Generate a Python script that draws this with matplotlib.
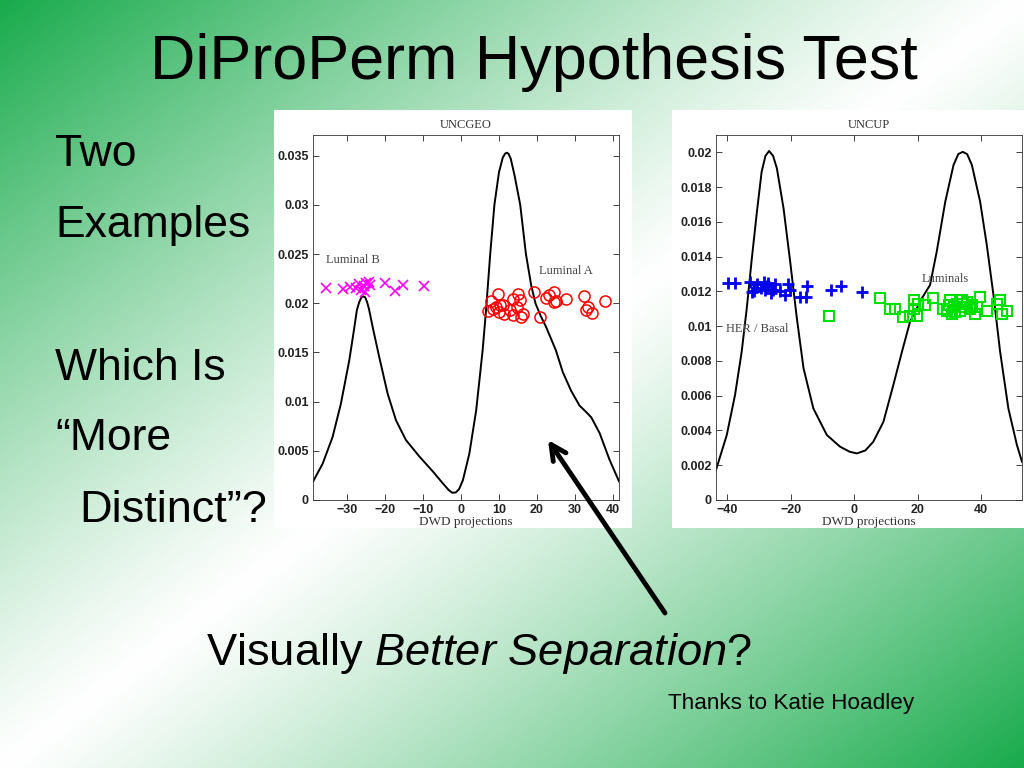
import numpy as np
import matplotlib
matplotlib.use("Agg")
import matplotlib.pyplot as plt
from matplotlib.patches import Rectangle

# UNCGEO: density curve
geo_curve_x = [-38.9, -36.4, -33.8, -31.6, -29.4, -28.2, -27.4, -26.8, -26.2, -25.7, -25.2, -24.7, -24.2, -23.2,
               -21.5, -19.3, -17.1, -14.5, -10.9, -7.4, -4.8, -3.2, -2.3, -1.4, -0.5, 0.5, 2.2, 4.0, 5.7,
               6.6, 7.7, 8.8, 10.0, 11.0, 11.6, 12.05, 12.5, 13.1, 14.1, 15.6, 17.1, 18.5, 19.6, 21.0, 22.4, 25.0,
               26.8, 29.0, 31.2, 32.8, 34.3, 36.5, 39.1, 41.6]
geo_curve_y = [0.0019, 0.0037, 0.0064, 0.0098, 0.0142, 0.0172, 0.0193, 0.0201, 0.0206, 0.0207, 0.0206, 0.0201, 0.0194, 0.0175,
               0.0145, 0.0108, 0.0081, 0.0061, 0.0044, 0.0029, 0.0017, 0.0010, 0.00074, 0.00076, 0.0011, 0.0020, 0.0047, 0.0091, 0.0152,
               0.0193, 0.0250, 0.0300, 0.0333, 0.0348, 0.0352, 0.0353, 0.0352, 0.0347, 0.0330, 0.0300, 0.0250, 0.0218, 0.0200, 0.0187, 0.0176, 0.0152,
               0.0130, 0.0111, 0.0096, 0.0090, 0.0084, 0.0068, 0.0041, 0.0019]

lumb_x = [-35.4, -31.0, -29.2, -27.5, -26.8, -26.3, -25.6, -25.0, -25.2, -24.3, -23.9, -19.9, -17.4, -15.3, -9.6]
lumb_y = [0.0215, 0.0214, 0.0216, 0.0215, 0.0220, 0.0213, 0.0218, 0.0221, 0.0211, 0.0222, 0.0219, 0.0221,
          0.0212, 0.0219, 0.0218]

luma_x = [7.9, 9.7, 10.4, 13.6, 14.95, 15.6, 19.2, 22.4, 23.3, 24.6, 24.9, 27.7, 32.5, 33.4, 37.8,
          7.05, 8.4, 9.2, 10.1, 11.0, 11.4, 12.8, 13.6, 14.7, 15.8, 20.7, 33.0, 34.5, 24.4, 16.2]
luma_y = [0.0202, 0.0209, 0.0198, 0.0204, 0.0209, 0.0203, 0.0211, 0.0205, 0.0208, 0.0211, 0.0202, 0.0204,
          0.0207, 0.0196, 0.0202, 0.0192, 0.0194, 0.0196, 0.0191, 0.0198, 0.0189, 0.0193, 0.0188, 0.0196,
          0.0186, 0.0186, 0.0193, 0.0190, 0.0201, 0.0189]

# UNCUP
up_curve_x = [-43.6, -40.2, -37.6, -35.5, -33.9, -32.3, -30.7, -29.2, -28.0, -26.85, -25.6, -24.4, -22.3,
              -20.2, -18.1, -16.0, -12.9, -8.65, -4.5, -1.5, 0.8, 3.5, 6.0, 9.2, 12.3, 15.0, 17.6,
              21.3, 23.9, 26.0, 28.7, 31.3, 32.8, 34.2, 35.6, 37.1, 39.7, 41.8, 43.9, 46.0, 48.6,
              51.3, 52.9]
up_curve_y = [0.00173, 0.00374, 0.00604, 0.00853, 0.01103, 0.0139, 0.01658, 0.01889, 0.0198, 0.02008, 0.0198, 0.01908, 0.01678,
              0.0137, 0.01045, 0.00758, 0.00527, 0.00374, 0.00307, 0.00278, 0.00268, 0.00285, 0.00335, 0.0045, 0.0066, 0.0085, 0.01026,
              0.0116, 0.01237, 0.01428, 0.01716, 0.01927, 0.0199, 0.02003, 0.0199, 0.01927, 0.01716, 0.01467, 0.01179, 0.00853, 0.00527,
              0.00316, 0.0022]

her_x = [-39.7, -37.6, -32.8, -32.3, -30.7, -28.6, -28.1, -27.6, -27.1, -26.3, -25.5, -25.0, -23.4, -21.8,
         -20.8, -20.2, -17.1, -15.0, -15.2, -7.3, -4.2, 2.6, -29.5, -31.5]
her_y = [0.0125, 0.0125, 0.01257, 0.01194, 0.01244, 0.01257, 0.0121, 0.0123, 0.0125, 0.0119, 0.0121, 0.0124,
         0.0120, 0.0118, 0.0124, 0.0121, 0.0117, 0.0123, 0.0117, 0.01206, 0.0123, 0.01196, 0.0122, 0.0120]

lumi_x = [-8.1, 8.0, 11.3, 12.9, 15.5, 17.6, 18.7, 19.7, 18.9, 20.2, 22.3, 24.9, 28.1, 29.2, 30.2, 30.8,
          31.3, 32.3, 33.4, 33.9, 35.0, 35.5, 36.5, 38.1, 38.6, 39.7, 41.8, 45.0, 46.0, 46.5, 48.3,
          29.8, 31.8, 34.4, 37.0]
lumi_y = [0.0106, 0.0116, 0.0110, 0.0110, 0.01053, 0.01057, 0.01152, 0.01057, 0.0110, 0.0113, 0.0112, 0.0116,
          0.0110, 0.0109, 0.0115, 0.0107, 0.0111, 0.0113, 0.0109, 0.0115, 0.0111, 0.0114, 0.0110, 0.0107,
          0.0111, 0.0117, 0.0109, 0.0113, 0.0115, 0.0107, 0.0109, 0.0112, 0.0108, 0.0113, 0.0112]

geo_xticks = [-30, -20, -10, 0, 10, 20, 30, 40]
geo_yticks = [0, 0.005, 0.01, 0.015, 0.02, 0.025, 0.03, 0.035]
geo_ylabels = ["0", "0.005", "0.01", "0.015", "0.02", "0.025", "0.03", "0.035"]
up_xticks = [-40, -20, 0, 20, 40]
up_yticks = [0, 0.002, 0.004, 0.006, 0.008, 0.01, 0.012, 0.014, 0.016, 0.018, 0.02]
up_ylabels = ["0", "0.002", "0.004", "0.006", "0.008", "0.01", "0.012", "0.014", "0.016", "0.018", "0.02"]

plt.rcParams['font.family'] = 'Liberation Sans'
plt.rcParams['mathtext.fontset'] = 'custom'
plt.rcParams['mathtext.rm'] = 'Liberation Sans'
plt.rcParams['mathtext.it'] = 'Liberation Sans:italic'

W, H = 1024, 768
fig = plt.figure(figsize=(10.24, 7.68), dpi=100)

# Background gradient: green top-left and bottom-right, white on the diagonal
bg = fig.add_axes([0, 0, 1, 1], zorder=-10)
xx, yy = np.meshgrid(np.linspace(0, 1, 256), np.linspace(0, 1, 192))
t = (xx + yy) / 2
w = np.clip(np.abs(t - 0.5) * 2, 0, 1) ** 1.15
green = np.array([0.10, 0.67, 0.30])
img = 1 - w[..., None] * (1 - green)
bg.imshow(img, extent=[0, W, H, 0], aspect='auto')
bg.set_xlim(0, W)
bg.set_ylim(H, 0)
bg.axis('off')
# white panels behind the two plots
bg.add_patch(Rectangle((274, 110), 358, 418, color='white', lw=0))
bg.add_patch(Rectangle((672, 110), 360, 418, color='white', lw=0))

serif = 'Liberation Serif'


def style_axes(ax, xticks, yticks, ylabels, title):
    ax.set_xticks(xticks)
    ax.set_xticklabels([str(v).replace('-', '\u2212') for v in xticks])
    ax.set_yticks(yticks)
    ax.set_yticklabels(ylabels)
    ax.tick_params(direction='in', top=True, right=True, length=4, width=0.6, colors='#222222',
                   labelsize=9, pad=3)
    for lab in ax.get_xticklabels() + ax.get_yticklabels():
        lab.set_fontweight('bold')
    for s in ax.spines.values():
        s.set_linewidth(0.6)
        s.set_color('#333333')
    ax.set_title(title, family=serif, fontsize=9, color='#333333', pad=5)
    ax.set_xlabel('DWD projections', family=serif, fontsize=9.5, color='#333333', labelpad=0)


# Left plot: UNCGEO
ax1 = fig.add_axes([313 / W, 1 - 500 / H, 306 / W, 365 / H])
ax1.plot(geo_curve_x, geo_curve_y, color='black', lw=1.4)
ax1.plot(lumb_x, lumb_y, 'x', color='#ff00ff', ms=6.5, mew=1.2)
ax1.plot(luma_x, luma_y, 'o', mfc='none', mec='#ff0000', ms=8, mew=1.1)
ax1.text(-35.5, 0.0244, 'Luminal B', family=serif, fontsize=9, color='#444444', va='center')
ax1.text(20.5, 0.0233, 'Luminal A', family=serif, fontsize=9, color='#444444', va='center')
ax1.set_xlim(-38.95, 41.6)
ax1.set_ylim(0, 0.0371)
style_axes(ax1, geo_xticks, geo_yticks, geo_ylabels, 'UNCGEO')

# Right plot: UNCUP
ax2 = fig.add_axes([716 / W, 1 - 500 / H, 306 / W, 365 / H])
ax2.plot(up_curve_x, up_curve_y, color='black', lw=1.4)
ax2.plot(her_x, her_y, '+', color='#0000ee', ms=9, mew=2)
ax2.plot(lumi_x, lumi_y, 's', mfc='none', mec='#00e000', ms=7, mew=1.5)
ax2.text(21.4, 0.0127, 'Luminals', family=serif, fontsize=9, color='#444444', va='center')
ax2.text(-40.4, 0.00985, 'HER / Basal', family=serif, fontsize=9, color='#444444', va='center')
ax2.set_xlim(-43.6, 52.9)
ax2.set_ylim(0, 0.021)
style_axes(ax2, up_xticks, up_yticks, up_ylabels, 'UNCUP')

# Overlay for slide text and the arrow
ov = fig.add_axes([0, 0, 1, 1], zorder=10)
ov.set_xlim(0, W)
ov.set_ylim(H, 0)
ov.axis('off')
ov.patch.set_alpha(0)

ov.text(534, 62, 'DiProPerm Hypothesis Test', fontsize=45.3, ha='center', va='center')
ov.text(55, 155, 'Two', fontsize=32, va='center')
ov.text(55, 226, 'Examples', fontsize=32, va='center')
ov.text(55, 368, 'Which Is', fontsize=32, va='center')
ov.text(55, 438, '\u201cMore', fontsize=32, va='center')
ov.text(79, 510, 'Distinct\u201d?', fontsize=32.5, va='center')
ov.text(206, 653, r'Visually $Better\ Separation$?', fontsize=32.6, va='center')
ov.text(668, 703, 'Thanks to Katie Hoadley', fontsize=16.2, va='center')

ov.annotate('', xy=(548, 440), xytext=(665, 613),
            arrowprops=dict(arrowstyle='->,head_length=1.1,head_width=0.55', lw=3.5, color='black',
                            shrinkA=0, shrinkB=0))

fig.savefig('out.png', dpi=100)
